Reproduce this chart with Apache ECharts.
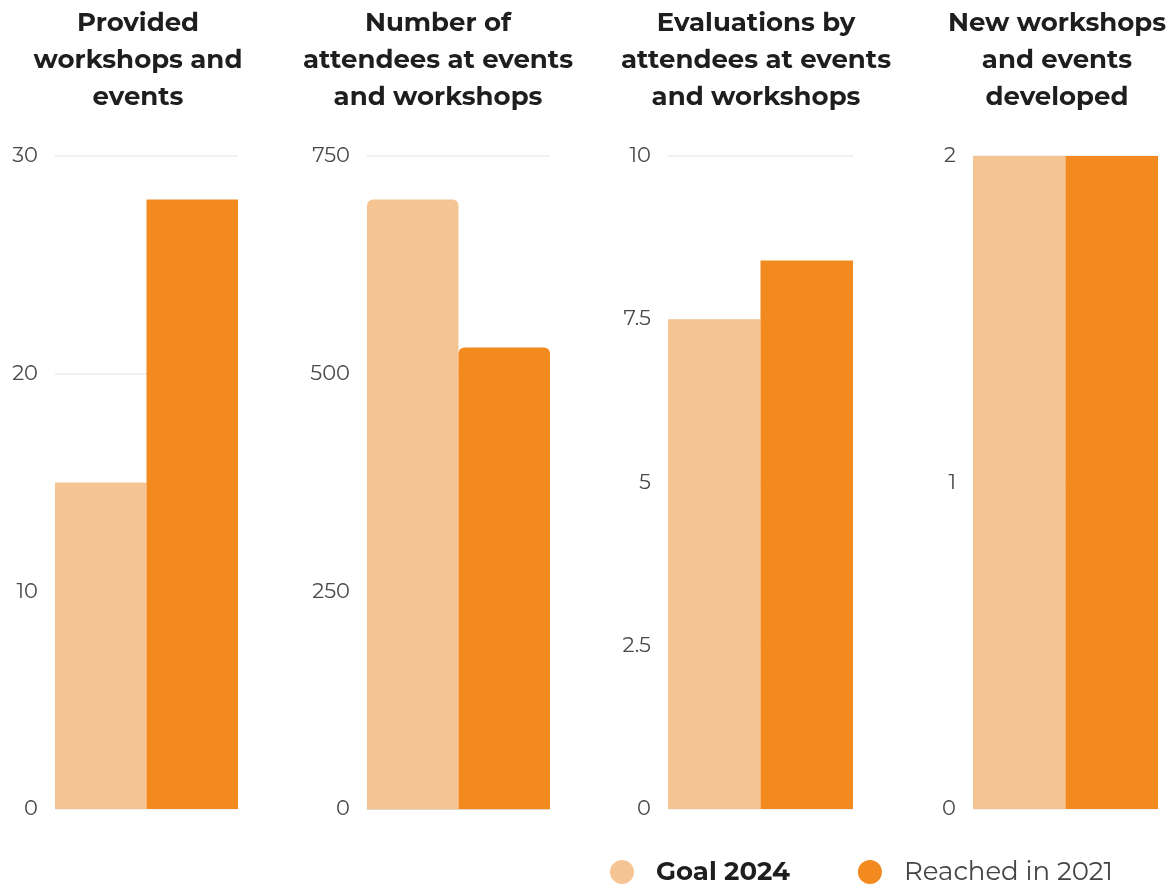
<!DOCTYPE html>
<html>
<head>
<meta charset="utf-8">
<script src="https://cdn.jsdelivr.net/npm/echarts@6/dist/echarts.min.js"></script>
<style>
  html, body { margin: 0; padding: 0; background: #fff; }
  #chart { width: 1173px; height: 891px; }
</style>
</head>
<body>
<div id="chart"></div>
<script>
// 数据
var panelTitles = [
    'Provided\nworkshops and\nevents',
    'Number of\nattendees at events\nand workshops',
    'Evaluations by\nattendees at events\nand workshops',
    'New workshops\nand events\ndeveloped'
];
var goal2024 = [15, 700, 7.5, 2];
var reached2021 = [28, 530, 8.4, 2];
var yMax = [30, 750, 10, 2];
var yStep = [10, 250, 2.5, 1];
var seriesNames = ['Goal 2024', 'Reached in 2021'];

var myChart = echarts.init(document.getElementById('chart'));

var gridBox = [[55, 238], [367, 550], [668, 853], [973, 1158]];
var titleX = [133, 433, 751, 1052];
var font = 'Montserrat, Inter, "DejaVu Sans", sans-serif';

var grids = [], xAxes = [], yAxes = [], series = [], titles = [];
for (var i = 0; i < 4; i++) {
    grids.push({
        left: gridBox[i][0],
        width: gridBox[i][1] - gridBox[i][0],
        top: 156,
        bottom: 82,
        containLabel: false
    });
    xAxes.push({
        gridIndex: i,
        type: 'category',
        data: [''],
        axisLine: { show: i === 1, lineStyle: { color: '#e2d6c8' } },
        axisTick: { show: false },
        axisLabel: { show: false }
    });
    yAxes.push({
        gridIndex: i,
        type: 'value',
        min: 0,
        max: yMax[i],
        interval: yStep[i],
        axisLine: { show: false },
        axisTick: { show: false },
        axisLabel: { color: '#4a4a4a', fontSize: 21, fontFamily: font, margin: 17 },
        splitLine: { lineStyle: { color: '#ececec', width: 1.5 } }
    });
    var radius = i === 1 ? [6, 6, 0, 0] : 0;
    series.push({
        name: seriesNames[0],
        type: 'bar',
        xAxisIndex: i,
        yAxisIndex: i,
        data: [goal2024[i]],
        barGap: '0%',
        barCategoryGap: '0%',
        itemStyle: { color: '#f4c593', borderRadius: radius }
    });
    series.push({
        name: seriesNames[1],
        type: 'bar',
        xAxisIndex: i,
        yAxisIndex: i,
        data: [reached2021[i]],
        barGap: '0%',
        barCategoryGap: '0%',
        itemStyle: { color: '#f38a20', borderRadius: radius }
    });
    titles.push({
        text: panelTitles[i],
        left: titleX[i],
        top: 0,
        textAlign: 'center',
        textStyle: {
            fontSize: 26,
            fontWeight: 'bold',
            fontFamily: font,
            color: '#1e1e1e',
            lineHeight: 37
        }
    });
}

var option = {
    animation: false,
    title: titles,
    legend: {
        data: seriesNames,
        bottom: 1,
        left: 605,
        icon: 'circle',
        itemWidth: 24,
        itemHeight: 24,
        itemGap: 68,
        formatter: function (name) {
            return name === seriesNames[0] ? '{b|' + name + '}' : '{n|' + name + '}';
        },
        textStyle: {
            padding: [0, 0, 0, 17],
            rich: {
                b: { fontSize: 26, fontWeight: 'bold', color: '#1e1e1e', fontFamily: font },
                n: { fontSize: 26, color: '#444', fontFamily: font }
            }
        }
    },
    grid: grids,
    xAxis: xAxes,
    yAxis: yAxes,
    series: series
};
myChart.setOption(option);
</script>
</body>
</html>
